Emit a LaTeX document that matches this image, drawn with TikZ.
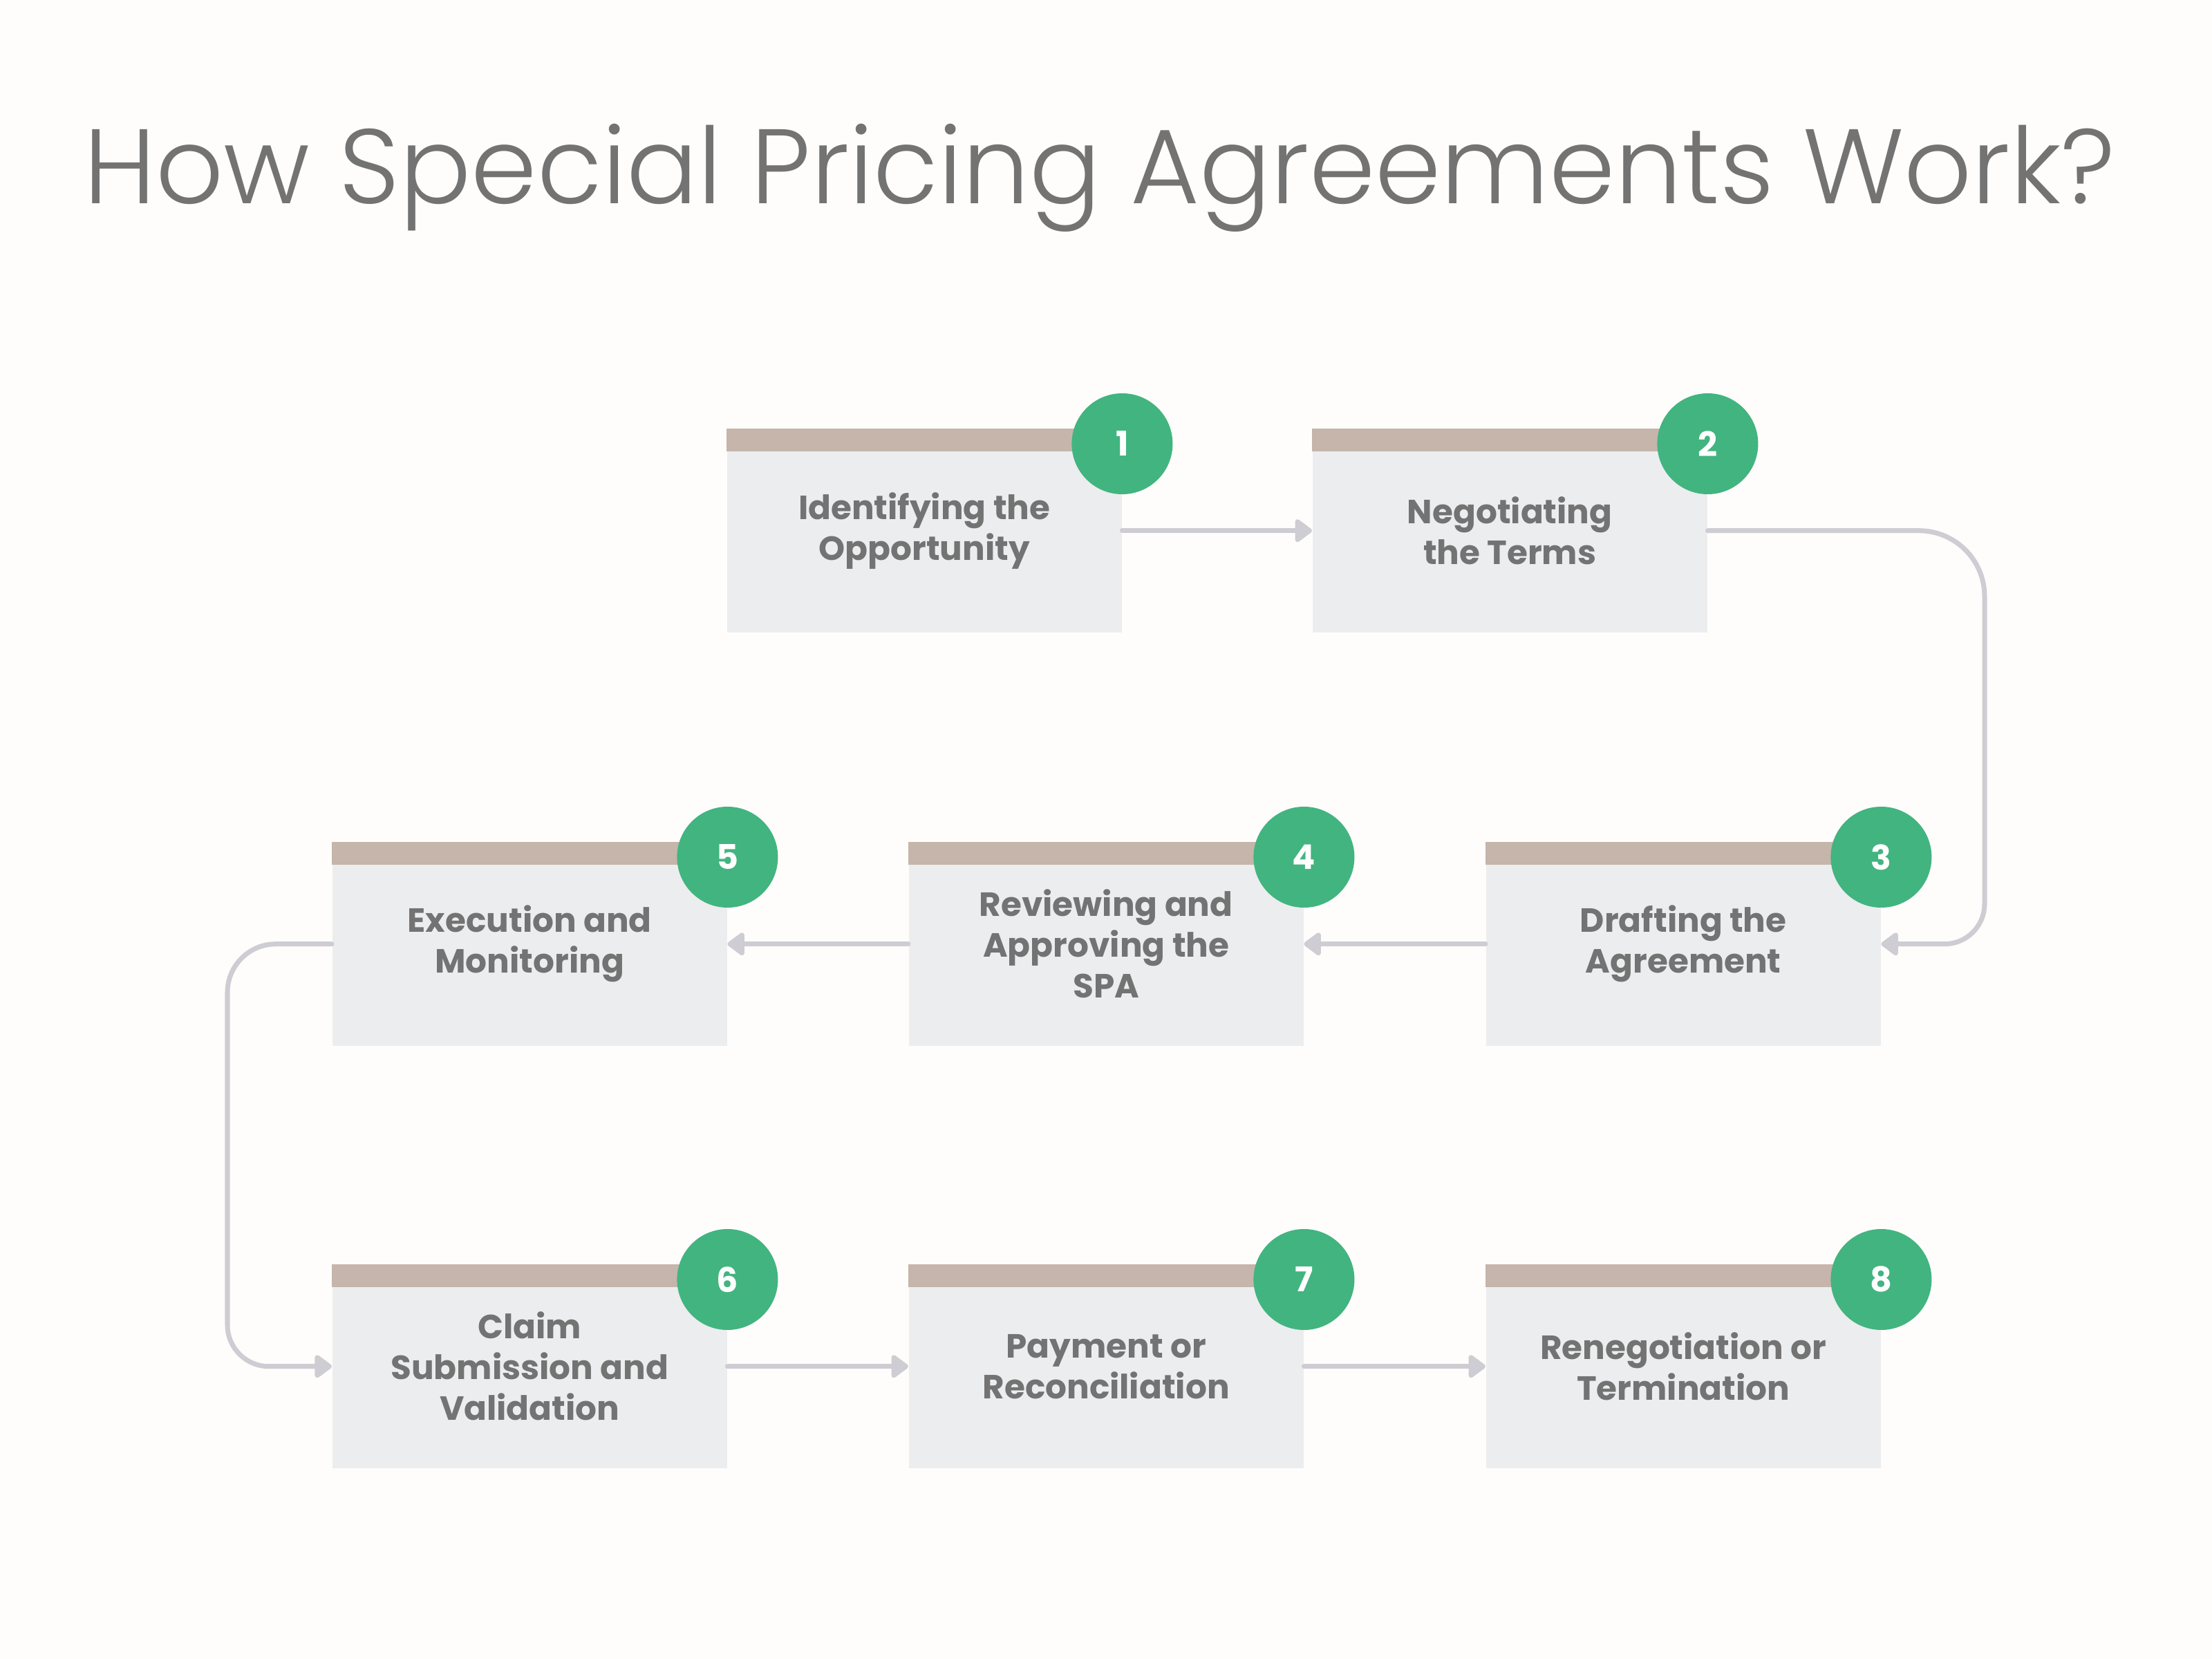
\documentclass[tikz,border=0pt]{standalone}
\usepackage{fontspec}
\setmainfont{Poppins}
\newfontfamily\titlefont{Poppins Light}
\usetikzlibrary{arrows.meta,calc}
\definecolor{bgc}{HTML}{FFFDFB}
\definecolor{boxc}{HTML}{ECEDEE}
\definecolor{tanc}{HTML}{C5B5AA}
\definecolor{greenc}{HTML}{42B480}
\definecolor{txtc}{HTML}{737373}
\definecolor{linec}{HTML}{CDCDD3}
\tikzset{
  stepbox/.style={draw=none,fill=boxc,minimum width=5.71cm,minimum height=2.94cm,anchor=north west,inner sep=0pt,
    align=center,text=txtc,font=\fontsize{13.8}{16.8}\selectfont\bfseries},
  numc/.style={circle,fill=greenc,minimum size=1.46cm,inner sep=0pt,text=white,font=\fontsize{14}{16.8}\selectfont\bfseries},
  conn/.style={draw=linec,line width=2pt,line cap=round,-{Triangle[length=0.27cm,width=0.38cm,round]}},
}
\newcommand\mystep[5]{%
  \node[stepbox] (#1) at (#2,#3) {#5};
  \fill[tanc] (#1.north west) rectangle ($(#1.north east)+(0,-0.33)$);
  \node[numc] (#1n) at ($(#1.north east)+(0,-0.22)$) {#4};
}
\begin{document}
\begin{tikzpicture}
\fill[bgc] (0,0) rectangle (32,-24);
\useasboundingbox (0,0) rectangle (32,-24);
\node[anchor=base,text=txtc,font=\fontsize{43.6}{50}\selectfont\titlefont] (title) at (15.91,-2.95) {How Special Pricing Agreements Work?};
\mystep{b1}{10.51}{-6.20}{1}{Identifying the\\Opportunity}
\mystep{b2}{18.98}{-6.20}{2}{Negotiating\\the Terms}
\mystep{b3}{21.49}{-12.18}{3}{Drafting the\\Agreement}
\mystep{b4}{13.14}{-12.18}{4}{Reviewing and\\Approving the\\SPA}
\mystep{b5}{4.80}{-12.18}{5}{Execution and\\Monitoring}
\mystep{b6}{4.80}{-18.29}{6}{Claim\\Submission and\\Validation}
\mystep{b7}{13.14}{-18.29}{7}{Payment or\\Reconciliation}
\mystep{b8}{21.49}{-18.29}{8}{Renegotiation or\\Termination}
\draw[conn] (b1.east) -- (b2.west);
\coordinate (c2) at (28.71,0 |- b2.east);
\coordinate (c3) at (28.71,0 |- b3.east);
\draw[conn] (b2.east) -- ($(c2)+(-0.95,0)$) arc[start angle=90,end angle=0,radius=0.95] -- ($(c3)+(0,0.58)$) arc[start angle=0,end angle=-90,radius=0.58] -- (b3.east);
\draw[conn] (b3.west) -- (b4.east);
\draw[conn] (b4.west) -- (b5.east);
\coordinate (c5) at (3.29,0 |- b5.west);
\coordinate (c6) at (3.29,0 |- b6.west);
\draw[conn] (b5.west) -- ($(c5)+(0.7,0)$) arc[start angle=90,end angle=180,radius=0.7] -- ($(c6)+(0,0.6)$) arc[start angle=180,end angle=270,radius=0.6] -- (b6.west);
\draw[conn] (b6.east) -- (b7.west);
\draw[conn] (b7.east) -- (b8.west);
\end{tikzpicture}
\end{document}
